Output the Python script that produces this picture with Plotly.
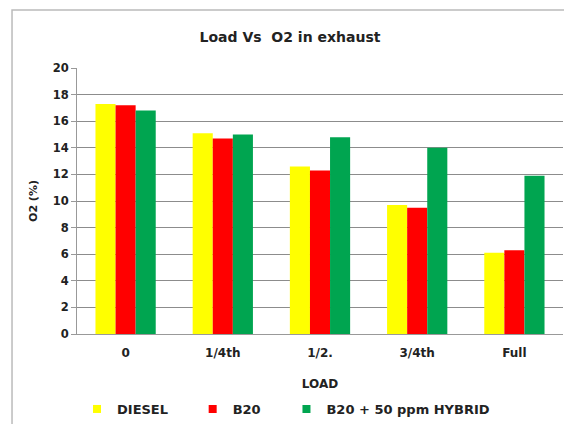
import plotly.graph_objects as go

loads = ["0", "1/4th", "1/2.", "3/4th", "Full"]
diesel = [17.3, 15.1, 12.6, 9.7, 6.1]
b20 = [17.2, 14.7, 12.3, 9.5, 6.3]
hybrid = [16.8, 15.0, 14.8, 14.0, 11.9]

names = ["DIESEL", "B20", "B20 + 50 ppm HYBRID"]
colors = ["#ffff00", "#ff0000", "#00a550"]

fig = go.Figure()
for vals, name, col in zip([diesel, b20, hybrid], names, colors):
    fig.add_trace(go.Bar(x=loads, y=vals, name=name, marker_color=col,
                         marker_line_width=0, showlegend=False))

# legend entries with small square keys, each in its own legend box
for i, (name, col) in enumerate(zip(names, colors)):
    fig.add_trace(go.Scatter(x=[None], y=[None], mode="markers", name="<b>" + name + "</b>",
                             marker=dict(symbol="square", size=8, color=col),
                             legend="legend" if i == 0 else "legend%d" % (i + 1)))

fam = "DejaVu Sans, Arial"
txt = dict(family=fam, size=12, color="#222")
leg = dict(orientation="h", y=-0.282, yanchor="middle", xanchor="left",
           font=dict(family=fam, size=13, color="#222"), itemwidth=30,
           bgcolor="rgba(0,0,0,0)")

# page body adds an 8px offset, so the figure is a bit smaller than the window
fig.update_layout(
    width=564, height=416,
    margin=dict(l=69, r=9, t=60, b=90, autoexpand=False),
    paper_bgcolor="white", plot_bgcolor="white",
    barmode="group", bargap=0.38, bargroupgap=0,
    title=dict(text="<b>Load Vs  O2 in exhaust</b>", x=0.5, xanchor="center", y=0.93,
               yanchor="middle", font=dict(family=fam, size=14, color="#222")),
    xaxis=dict(title=dict(text="<b>LOAD</b>", font=txt, standoff=20),
               tickfont=txt, tickprefix="<b>", ticksuffix="</b>",
               showline=True, linecolor="#999", ticks="", ticklabelstandoff=8),
    yaxis=dict(title=dict(text="<b>O2 (%)</b>", font=dict(family=fam, size=11, color="#222"), standoff=12),
               range=[0, 20], dtick=2, tickfont=dict(family=fam, size=11.5, color="#222"),
               tickprefix="<b>", ticksuffix="</b>",
               showgrid=True, gridcolor="#8c8c8c", gridwidth=1,
               showline=True, linecolor="#999", zeroline=False,
               ticks="outside", ticklen=5, tickcolor="#999"),
    legend=dict(leg, x=0.0),
    legend2=dict(leg, x=0.238),
    legend3=dict(leg, x=0.431),
    shapes=[dict(type="rect", xref="paper", yref="paper", x0=-0.1337, x1=1.05, y0=-0.5, y1=1.218,
                 line=dict(color="#bbbbbb", width=1.5), fillcolor="rgba(0,0,0,0)", layer="below")],
)

fig.write_html("out.html")
